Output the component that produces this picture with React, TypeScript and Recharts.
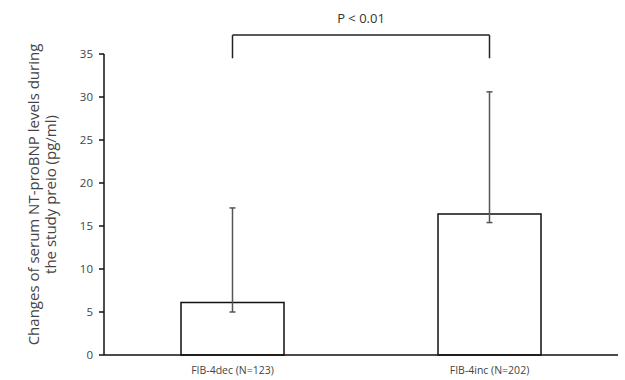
import { Bar, BarChart, ErrorBar, Label, ReferenceLine, XAxis, YAxis } from "recharts";

const groups = ["FIB-4dec (N=123)", "FIB-4inc (N=202)"];
const means = [6.1, 16.4];
const lows = [5.0, 15.4];
const highs = [17.1, 30.6];
const yTicks = [0, 5, 10, 15, 20, 25, 30, 35];
const pText = "P < 0.01";
const yTitle = ["Changes of serum NT-proBNP levels during", "the study preio (pg/ml)"];

const data = groups.map((g, i) => ({
  group: g,
  mean: means[i],
  err: [means[i] - lows[i], highs[i] - means[i]]
}));

const font = "'Open Sans', 'DejaVu Sans', sans-serif";

// two-line rotated axis title, left of the ticks
function YTitle(props: any) {
  const vb = props.viewBox || {};
  const cy = vb.y + vb.height / 2 - 10;
  return (
    <g>
      {yTitle.map((line, i) => (
        <text
          key={i}
          x={33 + i * 17}
          y={cy}
          transform={`rotate(-90, ${33 + i * 17}, ${cy})`}
          textAnchor="middle"
          dominantBaseline="central"
          fontSize={15}
          fontFamily={font}
          fill="#444"
        >
          {line}
        </text>
      ))}
    </g>
  );
}

export default function App() {
  return (
    <div style={{ position: "absolute", left: 0, top: 0, background: "#fff" }}>
      <BarChart
        width={625}
        height={380}
        data={data}
        margin={{ top: 54, right: 7, bottom: 0, left: 54 }}
      >
        <XAxis
          dataKey="group"
          tickLine={false}
          axisLine={{ stroke: "#111", strokeWidth: 1.5 }}
          height={25}
          tick={{ fontSize: 10.5, fill: "#444", fontFamily: font }}
          tickMargin={6}
          interval={0}
        />
        <YAxis
          domain={[0, 35]}
          ticks={yTicks}
          width={50}
          tickSize={5}
          tickMargin={6}
          axisLine={{ stroke: "#111", strokeWidth: 1.5 }}
          tickLine={{ stroke: "#111", strokeWidth: 1.5 }}
          tick={{ fontSize: 11.5, fill: "#444", fontFamily: font }}
        >
          <Label content={<YTitle />} />
        </YAxis>
        <Bar
          dataKey="mean"
          fill="#fff"
          stroke="#111"
          strokeWidth={1.5}
          barSize={103}
          isAnimationActive={false}
        >
          <ErrorBar dataKey="err" width={3} stroke="#555" strokeWidth={1.5} />
        </Bar>
        <ReferenceLine
          segment={[
            { x: groups[0], y: 37.2 },
            { x: groups[1], y: 37.2 }
          ]}
          stroke="#222"
          strokeWidth={1.5}
          ifOverflow="visible"
        >
          <Label
            value={pText}
            position="top"
            offset={12}
            fontSize={13}
            fontFamily={font}
            fill="#333"
          />
        </ReferenceLine>
        <ReferenceLine
          segment={[
            { x: groups[0], y: 37.2 },
            { x: groups[0], y: 34.5 }
          ]}
          stroke="#222"
          strokeWidth={1.5}
          ifOverflow="visible"
        />
        <ReferenceLine
          segment={[
            { x: groups[1], y: 37.2 },
            { x: groups[1], y: 34.5 }
          ]}
          stroke="#222"
          strokeWidth={1.5}
          ifOverflow="visible"
        />
      </BarChart>
    </div>
  );
}
